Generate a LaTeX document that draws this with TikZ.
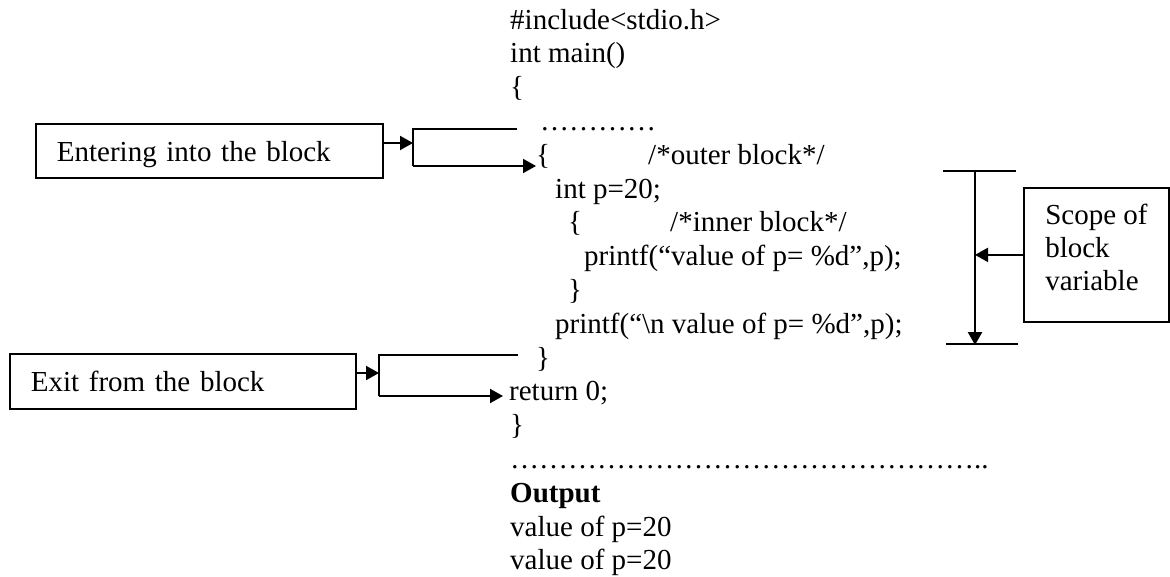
\documentclass[tikz,border=0pt]{standalone}
\usepackage{fontspec}
\setmainfont{Liberation Serif}
\usetikzlibrary{arrows.meta,calc}
\begin{document}
\begin{tikzpicture}[x=1pt,y=-1pt,
  font=\fontsize{29}{33.8}\selectfont,
  code/.style={anchor=base west, inner sep=0pt},
  labelbox/.style={draw, line width=1.8pt, inner ysep=0pt, inner xsep=21pt,
                   align=left, anchor=north west},
  rule/.style={line width=2pt},
  arr/.style={line width=2pt, -{Triangle[length=13pt,width=14pt]}}]
\useasboundingbox (0,0) rectangle (1170,576);

% program listing
\node[code] (c1)  at (510,29)    {\#include<stdio.h>};
\node[code] (c2)  at (510,62.8)  {int main()};
\node[code] (c3)  at (510,96.6)  {\{};
\node[code] (c4)  at (540,130.4) {…………};
\node[code] (c5)  at (536,164.2) {\{};
\node[code] (c5c) at (648,164.2) {/*outer block*/};
\node[code] (c6)  at (555,198)   {int p=20;};
\node[code] (c7)  at (568,231.8) {\{};
\node[code] (c7c) at (670,231.8) {/*inner block*/};
\node[code] (c8)  at (584,265.6) {printf(“value of p= \%d”,p);};
\node[code] (c9)  at (568,299.4) {\}};
\node[code] (c10) at (555,333.2) {printf(“\textbackslash n value of p= \%d”,p);};
\node[code] (c11) at (536,367)   {\}};
\node[code] (c12) at (509,400.8) {return 0;};
\node[code] (c13) at (510,434.6) {\}};
\node[code] (c14) at (510,468.4) {…………………………………………..};
\node[code] (c15) at (510,502.2) {\textbf{Output}};
\node[code] (c16) at (510,536)   {value of p=20};
\node[code] (c17) at (510,569.8) {value of p=20};

% labels
\node[labelbox, text width=305pt, text height=38pt, text depth=16pt] (entry) at (35,123) {Entering into the block};
\node[labelbox, text width=304pt, text height=38pt, text depth=17pt] (leave) at (9,353) {Exit from the block};
\node[draw, line width=1.8pt, anchor=north west, inner sep=0pt, minimum width=145pt,
      text height=37pt, text depth=97pt, font=\fontsize{29}{33}\selectfont]
      (scope) at (1023,187) {\begin{tabular}[t]{@{}l@{}}Scope of\\block\\variable\end{tabular}};

% entry bracket
\coordinate (eIn)  at (413,143);
\coordinate (eTop) at (413,129);
\coordinate (eBot) at (413,166);
\coordinate (eEnd) at (517,129);
\draw[arr] (entry.east |- eIn) -- (eIn);
\draw[rule] (eEnd) -- (eTop) -- (eBot);
\draw[arr] (eBot) -- (eBot -| c5.west);

% exit bracket
\coordinate (xIn)  at (379,373);
\coordinate (xTop) at (379,355);
\coordinate (xBot) at (379,396);
\coordinate (xEnd) at (518,355);
\draw[arr] (leave.east |- xIn) -- (xIn);
\draw[rule] (xEnd) -- (xTop) -- (xBot);
\draw[arr, shorten >=6pt] (xBot) -- (xBot -| c12.west);

% scope marker
\coordinate (sTop) at (975,171);
\coordinate (sBot) at (975,345);
\draw[rule] (943,171) -- (1016,171);
\draw[rule] (946,344) -- (1018,344);
\draw[arr, line width=2.4pt] (sTop) -- (sBot);
\draw[arr] (scope.west) -- (scope.west -| sTop);
\end{tikzpicture}
\end{document}
